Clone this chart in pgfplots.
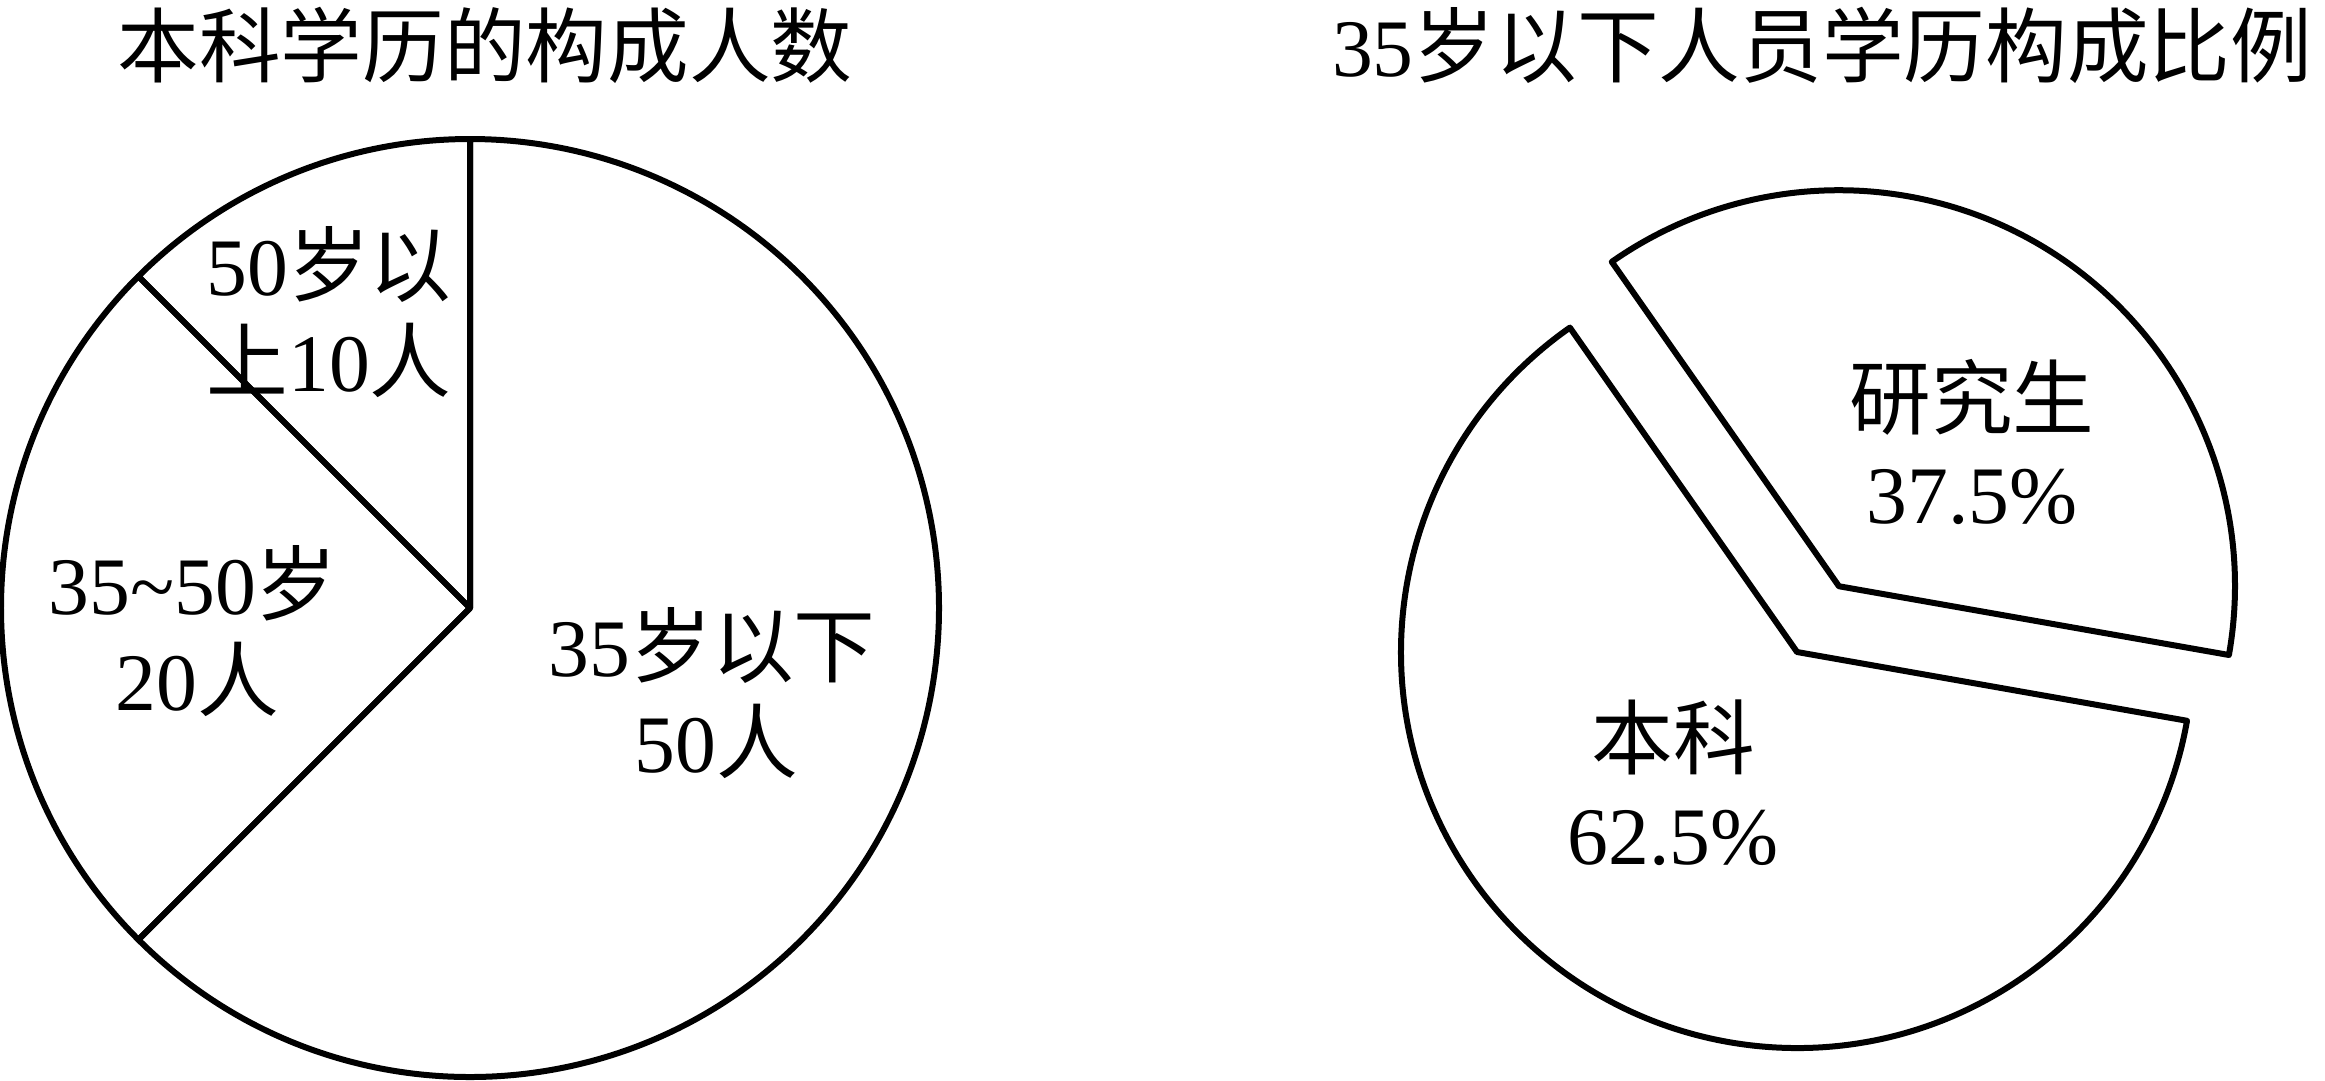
\documentclass[border=0pt]{standalone}
\usepackage{pgfplots}
\pgfplotsset{compat=1.18}
\usepackage{fontspec}
\setmainfont{Liberation Serif}
\newfontfamily\cjk{Noto Sans CJK SC}
\newcommand{\lbl}{\fontsize{24.5}{29}\selectfont}
\begin{document}
\begin{tikzpicture}
% ---- data ----
% left pie: 50岁以上, 35~50岁, 35岁以下 (persons)
\def\La{10}\def\Lb{20}\def\Lc{50}
% right pie: 研究生, 本科 (percent)
\def\Ra{37.5}\def\Rb{62.5}
\pgfmathsetmacro{\Ltot}{\La+\Lb+\Lc}
\pgfmathsetmacro{\AO}{90}
\pgfmathsetmacro{\AI}{\AO+360*(\La/\Ltot)}
\pgfmathsetmacro{\AII}{\AI+360*(\Lb/\Ltot)}
\pgfmathsetmacro{\AIII}{\AII+360*(\Lc/\Ltot)}
\pgfmathsetmacro{\Rtot}{\Ra+\Rb}
\pgfmathsetmacro{\BO}{-10}
\pgfmathsetmacro{\BI}{\BO+360*(\Ra/\Rtot)}
\pgfmathsetmacro{\BII}{\BI+360*(\Rb/\Rtot)}
\pgfmathsetmacro{\Bmid}{(\BO+\BI)/2}
\begin{axis}[scale only axis, width=697.5pt, height=324pt,
  xmin=0, xmax=2325, ymin=0, ymax=1080, y dir=reverse, hide axis]
\path (axis cs:0,0) rectangle (axis cs:2325,1080);
% left pie
\draw[line width=1.8pt, line join=round] (axis cs:470,608) -- ++(\AO:140.7pt) arc[start angle=\AO, end angle=\AI, radius=140.7pt] -- cycle;
\draw[line width=1.8pt, line join=round] (axis cs:470,608) -- ++(\AI:140.7pt) arc[start angle=\AI, end angle=\AII, radius=140.7pt] -- cycle;
\draw[line width=1.8pt, line join=round] (axis cs:470,608) -- ++(\AII:140.7pt) arc[start angle=\AII, end angle=\AIII, radius=140.7pt] -- cycle;
% right pie (exploded 研究生)
\draw[line width=1.8pt, line join=round] ([shift={(\Bmid:23.4pt)}]axis cs:1797,652) -- ++(\BO:118.8pt) arc[start angle=\BO, end angle=\BI, radius=118.8pt] -- cycle;
\draw[line width=1.8pt, line join=round] (axis cs:1797,652) -- ++(\BI:118.8pt) arc[start angle=\BI, end angle=\BII, radius=118.8pt] -- cycle;
% titles
\node[font=\lbl] at (axis cs:485,45) {{\cjk 本科学历的构成人数}};
\node[font=\lbl] at (axis cs:1822,45) {35{\cjk 岁以下人员学历构成比例}};
% left labels
\node[font=\lbl] at (axis cs:329,264) {50{\cjk 岁以}};
\node[font=\lbl] at (axis cs:329,360) {{\cjk 上}10{\cjk 人}};
\node[font=\lbl] at (axis cs:193,583) {35\textasciitilde 50{\cjk 岁}};
\node[font=\lbl] at (axis cs:197,679) {20{\cjk 人}};
\node[font=\lbl] at (axis cs:712,645) {35{\cjk 岁以下}};
\node[font=\lbl] at (axis cs:716,741) {50{\cjk 人}};
% right labels
\node[font=\lbl] at (axis cs:1972,397) {{\cjk 研究生}};
\node[font=\lbl] at (axis cs:1972,497) {37.5\%};
\node[font=\lbl] at (axis cs:1673,737) {{\cjk 本科}};
\node[font=\lbl] at (axis cs:1673,838) {62.5\%};
\end{axis}
\end{tikzpicture}
\end{document}
